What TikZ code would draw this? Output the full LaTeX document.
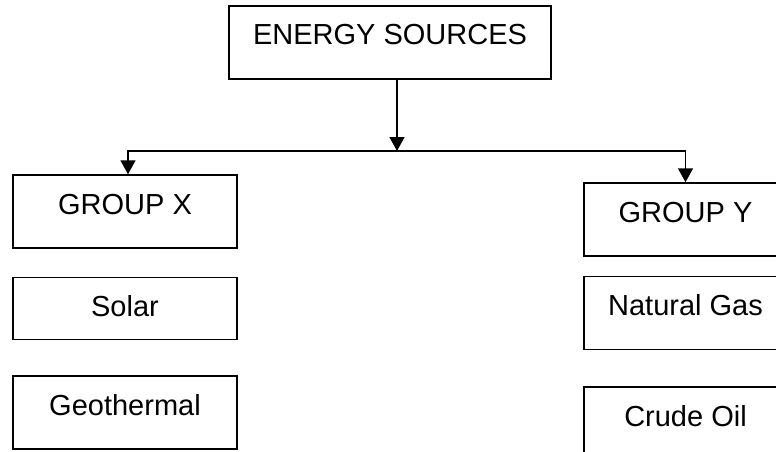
\documentclass[tikz,border=0pt]{standalone}
\usepackage{fontspec}
\setmainfont{Liberation Sans}
\usetikzlibrary{arrows.meta, positioning}

\begin{document}
\begin{tikzpicture}[
    x=1pt, y=-1pt,
    >={Triangle[width=15pt, length=14pt]},
    box/.style={draw, line width=1.5pt, inner sep=0pt, anchor=base, text height=39pt, text depth=34pt, font=\fontsize{29}{34}\selectfont},
    leftbox/.style={box, minimum width=224pt},
    rightbox/.style={box, minimum width=203pt},
    flow/.style={->, line width=1.5pt}
  ]
    \useasboundingbox (0,0) rectangle (776,452);
    \clip (0,0) rectangle (776,452);

    \node[box, minimum width=322pt] (sources) at (390,45) {ENERGY SOURCES};

    % group x column
    \node[leftbox] (groupx) at (125,214) {GROUP X};
    \node[leftbox, text depth=23pt, below=28pt of groupx] (solar) {Solar};
    \node[leftbox, below=35pt of solar] (geo) {Geothermal};

    % group y column, runs off the right edge
    \node[rightbox] (groupy) at (685.5,222) {GROUP Y};
    \node[rightbox, below=19pt of groupy] (gas) {Natural Gas};
    \node[rightbox, below=36pt of gas] (oil) {Crude Oil};

    \coordinate (fork) at (397,151);
    \draw[flow] (sources.south -| fork) -- (fork);
    \draw[flow] (fork) -| ([xshift=3pt]groupx.north);
    \draw[flow] (fork) -| (groupy.north);
\end{tikzpicture}
\end{document}
